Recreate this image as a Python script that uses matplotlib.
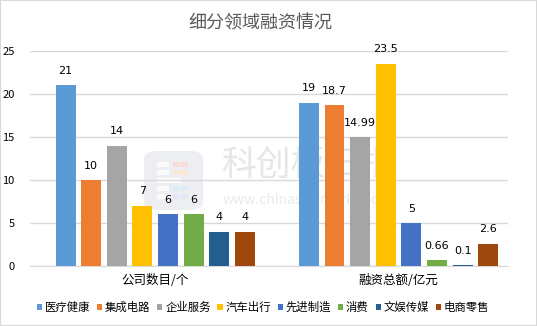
import matplotlib
matplotlib.use("Agg")
import matplotlib.pyplot as plt
from matplotlib.patches import Rectangle, FancyBboxPatch
import numpy as np

plt.rcParams['font.family'] = ['Noto Sans CJK SC', 'DejaVu Sans']

title = "细分领域融资情况"
groups = ["公司数目/个", "融资总额/亿元"]
sectors = ["医疗健康", "集成电路", "企业服务", "汽车出行", "先进制造", "消费", "文娱传媒", "电商零售"]
colors = ["#5B9BD5", "#ED7D31", "#A5A5A5", "#FFC000", "#4472C4", "#70AD47", "#255E91", "#9E480E"]
company_counts = [21, 10, 14, 7, 6, 6, 4, 4]
funding_totals = [19, 18.7, 14.99, 23.5, 5, 0.66, 0.1, 2.6]
count_labels = ["21", "10", "14", "7", "6", "6", "4", "4"]
funding_labels = ["19", "18.7", "14.99", "23.5", "5", "0.66", "0.1", "2.6"]
yticks = [0, 5, 10, 15, 20, 25]

W, H = 537, 326
fig = plt.figure(figsize=(W / 100, H / 100), dpi=100)


def px_rect(x0, y0, w, h, color, z):
    r = Rectangle((x0 / W, 1 - (y0 + h) / H), w / W, h / H, transform=fig.transFigure,
                  facecolor=color, edgecolor="none", zorder=z)
    fig.patches.append(r)


# faint watermark placed beneath the chart area
fig.text(308 / W, 1 - 166 / H, "科创板日报", ha="center", va="center", fontsize=25,
         color="#e4e6ea", zorder=0.2)
fig.text(305 / W, 1 - 200 / H, "www.chinastarmarket.cn", ha="center", va="center",
         fontsize=10, color="#e8eaee", zorder=0.2)
logo = FancyBboxPatch((144 / W, 1 - 210 / H), 59 / W, 59 / H,
                      boxstyle="round,pad=0,rounding_size=0.025",
                      transform=fig.transFigure, facecolor="#eceef1", edgecolor="none", zorder=0.1)
fig.patches.append(logo)
for yy, ww in [(162, 12), (170, 12), (178, 24), (186, 12), (194, 12)]:
    px_rect(157, yy, ww, 5, "#fbfbfc", 0.15)
for (xx, yy, cc) in [(173, 162, "#f7dcd8"), (181, 162, "#f7dcd8"), (173, 170, "#fbe8d2"),
                     (181, 170, "#fbe8d2"), (173, 186, "#dcecf7"), (181, 186, "#dcecf7"),
                     (173, 194, "#e2e6f7"), (181, 194, "#e2e6f7")]:
    px_rect(xx, yy, 7, 5, cc, 0.15)

ax = fig.add_axes([30 / W, 1 - 266 / H, (508 - 30) / W, (266 - 51) / H])
ax.set_zorder(1)
ax.patch.set_alpha(0)

step = 0.1053
width = 0.082
x = np.arange(len(groups))
for i, (name, c) in enumerate(zip(sectors, colors)):
    vals = [company_counts[i], funding_totals[i]]
    labs = [count_labels[i], funding_labels[i]]
    pos = x + (i - 3.5) * step
    bars = ax.bar(pos, vals, width=width, color=c, label=name, zorder=3)
    for b, lab in zip(bars, labs):
        ax.text(b.get_x() + b.get_width() / 2, b.get_height() + 1.1, lab,
                ha="center", va="bottom", fontsize=8, color="#000000", zorder=4,
                family=['DejaVu Sans'])

ax.set_xlim(-0.515, 1.45)
ax.set_ylim(0, 25)
ax.set_yticks(yticks)
ax.set_xticks(x)
ax.set_xticklabels(groups, fontsize=9, color="#000000")
ax.tick_params(axis="x", length=0, pad=6)
ax.tick_params(axis="y", length=0, labelsize=8, pad=11, colors="#000000")
ax.grid(axis="y", color="#d9d9d9", linewidth=1, zorder=0)
for s in ["top", "right", "left"]:
    ax.spines[s].set_visible(False)
ax.spines["bottom"].set_color("#d9d9d9")
ax.spines["bottom"].set_zorder(1)

fig.text(260 / W, 1 - 23 / H, title, ha="center", va="center", fontsize=13, color="#595959")

leg = fig.legend(loc="center", bbox_to_anchor=(263 / W, 1 - 307 / H), ncol=8, frameon=False,
                 fontsize=8.2, handlelength=0.45, handleheight=0.45, handletextpad=0.25,
                 columnspacing=0.6, borderaxespad=0)

fig.patches.append(Rectangle((0, 0), 1, 1, transform=fig.transFigure, fill=False,
                             edgecolor="#d9d9d9", linewidth=1.5, zorder=5))

fig.savefig("out.png", dpi=100)
